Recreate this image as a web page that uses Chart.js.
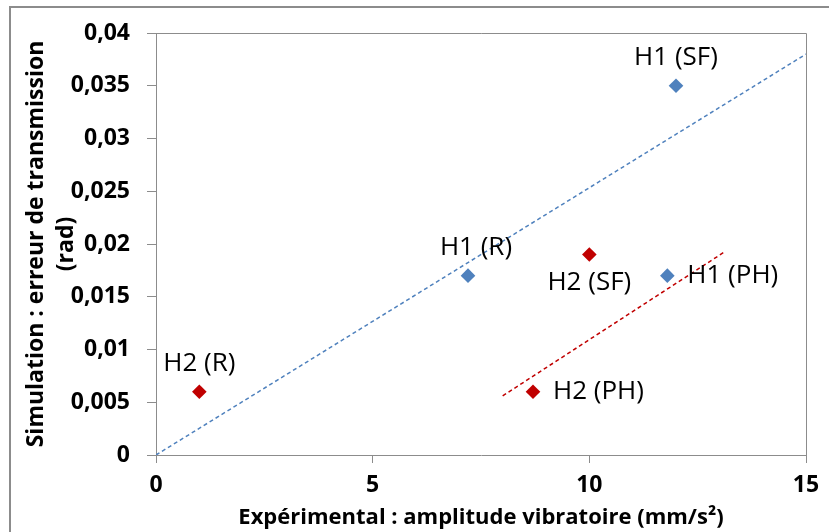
<!DOCTYPE html>
<html>
<head>
<meta charset="utf-8">
<script src="https://cdn.jsdelivr.net/npm/chart.js@4"></script>
<style>
  html, body { margin: 0; padding: 0; background: #fff; }
  #wrap { width: 829px; height: 532px; position: relative; }
</style>
</head>
<body>
<div id="wrap"><canvas id="graphe"></canvas></div>
<script>
// Données
const h1Labels = ['H1 (SF)', 'H1 (R)', 'H1 (PH)'];
const h1X = [12, 7.2, 11.8];
const h1Y = [0.035, 0.017, 0.017];

const h2Labels = ['H2 (R)', 'H2 (SF)', 'H2 (PH)'];
const h2X = [1, 10, 8.7];
const h2Y = [0.006, 0.019, 0.006];

// Courbes de tendance (extrémités)
const trendH1X = [0, 15];
const trendH1Y = [0, 0.038];
const trendH2X = [8, 13.1];
const trendH2Y = [0.0056, 0.0192];

const xTicks = ['0', '5', '10', '15'];
const yTicks = ['0', '0,005', '0,01', '0,015', '0,02', '0,025', '0,03', '0,035', '0,04'];

// Position des étiquettes autour des points
const h1Pos = ['above', 'above', 'right'];
const h2Pos = ['above', 'below', 'right'];

const BLUE = '#4F81BD';
const RED = '#C00000';
const GRAY = '#8C8C8C';
const FONT = '"Open Sans", sans-serif';

const pts = (xs, ys) => xs.map((x, i) => ({ x: x, y: ys[i] }));

// Cadre extérieur + bord haut/droit de la zone de tracé
const cadre = {
    id: 'cadre',
    beforeDraw(chart) {
        const c = chart.ctx;
        const a = chart.chartArea;
        c.save();
        c.strokeStyle = GRAY;
        c.lineWidth = 1;
        c.setLineDash([]);
        c.beginPath();
        c.moveTo(a.left, a.top + 0.5);
        c.lineTo(a.right + 0.5, a.top + 0.5);
        c.lineTo(a.right + 0.5, a.bottom);
        c.stroke();
        c.lineWidth = 2;
        c.beginPath();
        c.moveTo(10, chart.height);
        c.lineTo(10, 7);
        c.lineTo(chart.width, 7);
        c.stroke();
        c.restore();
    }
};

// Étiquettes des points
const etiquettes = {
    id: 'etiquettes',
    afterDatasetsDraw(chart) {
        const c = chart.ctx;
        c.save();
        c.font = '26px ' + FONT;
        c.fillStyle = '#000';
        [[0, h1Labels, h1Pos], [1, h2Labels, h2Pos]].forEach(([di, labels, pos]) => {
            const meta = chart.getDatasetMeta(di);
            meta.data.forEach((p, i) => {
                c.textBaseline = 'middle';
                if (pos[i] === 'above') {
                    c.textAlign = 'center';
                    c.fillText(labels[i], p.x + (i === 1 && di === 0 ? 8 : 0), p.y - 28);
                } else if (pos[i] === 'below') {
                    c.textAlign = 'center';
                    c.fillText(labels[i], p.x, p.y + 28);
                } else {
                    c.textAlign = 'left';
                    c.fillText(labels[i], p.x + 20, p.y);
                }
            });
        });
        c.restore();
    }
};

new Chart(document.getElementById('graphe').getContext('2d'), {
    type: 'scatter',
    data: {
        datasets: [
            {
                label: 'H1',
                data: pts(h1X, h1Y),
                pointStyle: 'rectRot',
                pointRadius: 7.3,
                pointHoverRadius: 7.3,
                backgroundColor: BLUE,
                borderColor: BLUE,
                borderWidth: 0
            },
            {
                label: 'H2',
                data: pts(h2X, h2Y),
                pointStyle: 'rectRot',
                pointRadius: 7.3,
                pointHoverRadius: 7.3,
                backgroundColor: RED,
                borderColor: RED,
                borderWidth: 0
            },
            {
                label: 'Tendance H1',
                data: pts(trendH1X, trendH1Y),
                showLine: true,
                pointRadius: 0,
                borderColor: BLUE,
                borderWidth: 1.5,
                borderDash: [4, 3]
            },
            {
                label: 'Tendance H2',
                data: pts(trendH2X, trendH2Y),
                showLine: true,
                pointRadius: 0,
                borderColor: RED,
                borderWidth: 1.5,
                borderDash: [4, 3]
            }
        ]
    },
    options: {
        responsive: true,
        maintainAspectRatio: false,
        animation: false,
        events: [],
        layout: { padding: { left: 0, top: 33, right: 23, bottom: 0 } },
        plugins: {
            legend: { display: false },
            tooltip: { enabled: false }
        },
        scales: {
            x: {
                type: 'linear',
                min: 0,
                max: 15,
                afterFit: (s) => { s.height = 77; },
                afterBuildTicks: (s) => { s.ticks = xTicks.map((t, i) => ({ value: i * 5 })); },
                ticks: {
                    color: '#000',
                    padding: 9,
                    font: { family: FONT, size: 23, weight: 'bold' },
                    callback: (v, i) => xTicks[i]
                },
                grid: { display: true, drawOnChartArea: false, drawTicks: true, tickLength: 8, color: GRAY },
                border: { color: GRAY },
                title: {
                    display: true,
                    text: 'Expérimental : amplitude vibratoire (mm/s²)',
                    color: '#000',
                    font: { family: FONT, size: 22, weight: 'bold', lineHeight: 1.2 },
                    padding: { top: 0, bottom: 1 }
                }
            },
            y: {
                type: 'linear',
                min: 0,
                max: 0.04,
                afterFit: (s) => { s.width = 156; },
                afterBuildTicks: (s) => { s.ticks = yTicks.map((t, i) => ({ value: i * 0.005 })); },
                ticks: {
                    color: '#000',
                    padding: 17,
                    font: { family: FONT, size: 23, weight: 'bold' },
                    callback: (v, i) => yTicks[i]
                },
                grid: { display: true, drawOnChartArea: false, drawTicks: true, tickLength: 9, color: GRAY },
                border: { color: GRAY },
                title: {
                    display: true,
                    text: ['Simulation : erreur de transmission', '(rad)'],
                    color: '#000',
                    font: { family: FONT, size: 23, weight: 'bold', lineHeight: 1.3 },
                    padding: { top: 22, bottom: 0 }
                }
            }
        }
    },
    plugins: [cadre, etiquettes]
});
</script>
</body>
</html>
